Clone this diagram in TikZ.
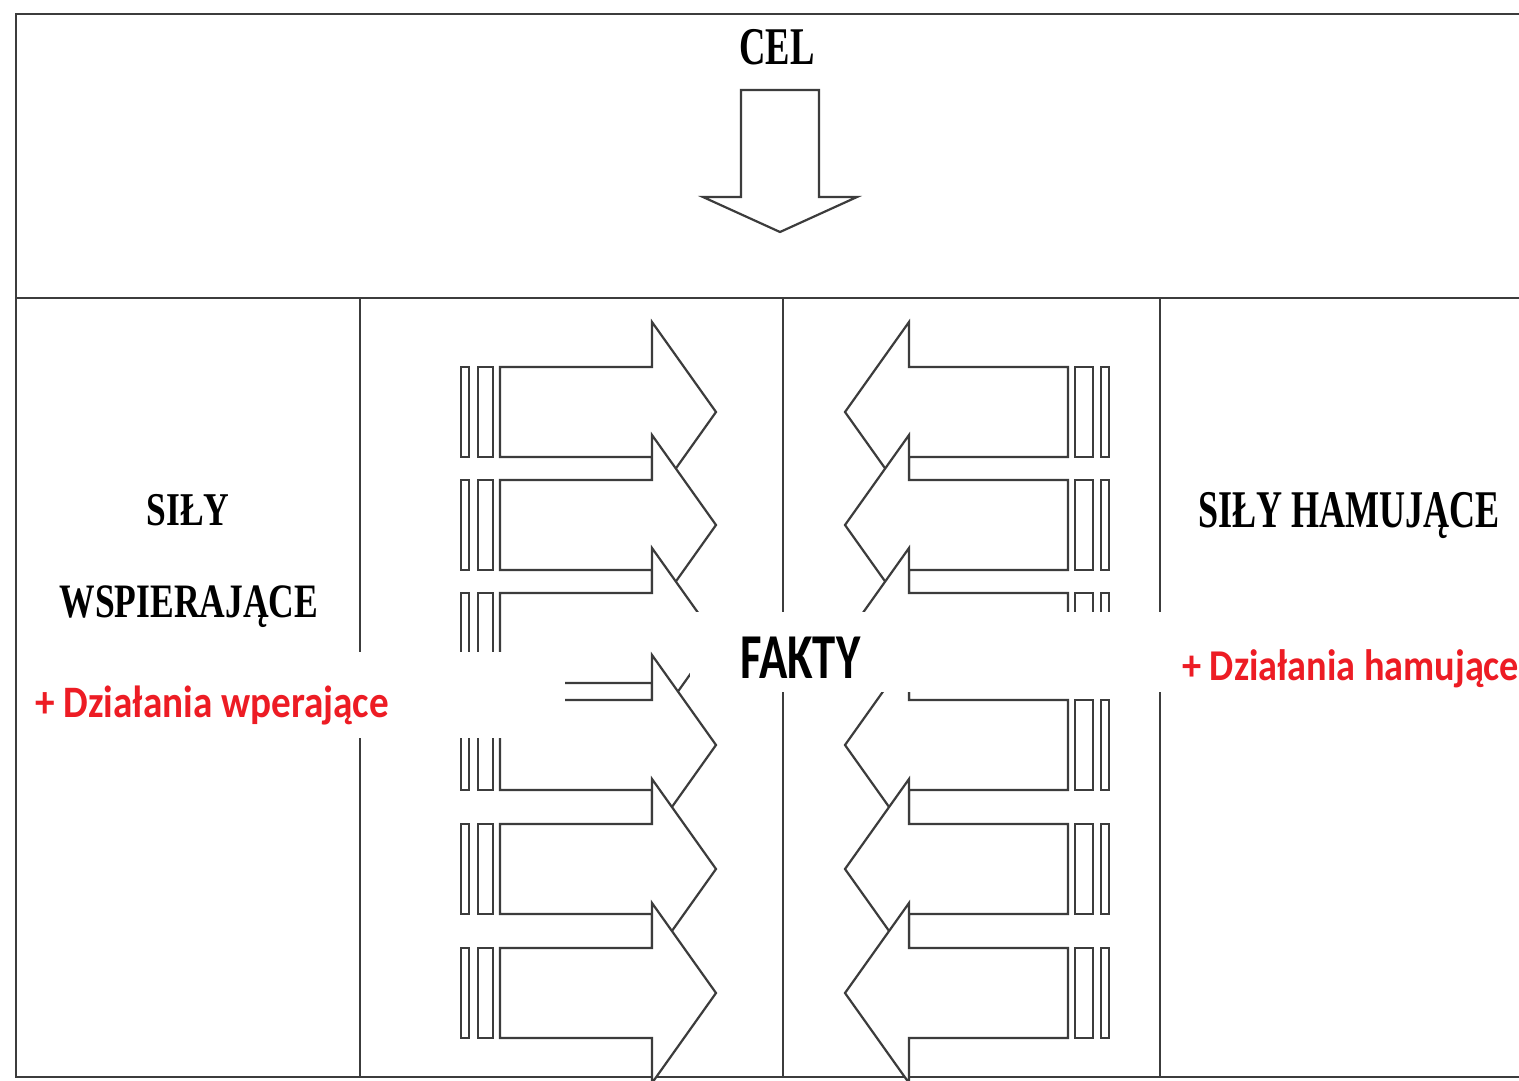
\documentclass[tikz,border=0pt]{standalone}
\usepackage{fontspec}
\setmainfont{Liberation Serif}
\newfontfamily\calib{Carlito}
\definecolor{redlab}{RGB}{237,28,36}
\definecolor{linegray}{RGB}{60,60,60}
\begin{document}
\begin{tikzpicture}[x=1pt,y=-1pt,
  frameline/.style={draw=linegray, line width=2.8pt},
  colline/.style={draw=linegray, line width=2.2pt},
  arr/.style={draw=linegray, fill=white, line width=2.2pt, line join=miter},
  barbox/.style={draw=linegray, fill=white, line width=2pt},
  mask/.style={fill=white, draw=none},
  serifb/.style={inner sep=0pt, font=\bfseries},
  calb/.style={inner sep=0pt, font=\calib\bfseries},
  redb/.style={inner sep=0pt, font=\calib\bfseries, text=redlab}
]
\useasboundingbox (0,0) rectangle (1519,1080);
\fill[white] (0,0) rectangle (1519,1080);

% frame
\draw[frameline] (16,14) -- (1519,14);
\draw[frameline] (16,298) -- (1519,298);
\draw[frameline] (16,1077) -- (1519,1077);
\draw[frameline] (16,13) -- (16,1078);
\draw[colline] (360,298) -- (360,1077);
\draw[colline] (783,298) -- (783,1077);
\draw[colline] (1160,298) -- (1160,1077);

% CEL arrow
\draw[arr] (741,90) -- (819,90) -- (819,197) -- (857,197) -- (780,232) -- (703,197) -- (741,197) -- cycle;

% left (supporting) arrows
\foreach \c in {412,525,638,745,869,993} {
  \draw[arr] (500,{\c-45}) -- (652,{\c-45}) -- (652,{\c-90}) -- (716,\c) -- (652,{\c+90}) -- (652,{\c+45}) -- (500,{\c+45}) -- cycle;
  \draw[barbox] (478,{\c-45}) rectangle (493,{\c+45});
  \draw[barbox] (461,{\c-45}) rectangle (469,{\c+45});
}
% right (restraining) arrows
\foreach \c in {412,525,638,745,869,993} {
  \draw[arr] (1068,{\c-45}) -- (909,{\c-45}) -- (909,{\c-90}) -- (845,\c) -- (909,{\c+90}) -- (909,{\c+45}) -- (1068,{\c+45}) -- cycle;
  \draw[barbox] (1075,{\c-45}) rectangle (1093,{\c+45});
  \draw[barbox] (1101,{\c-45}) rectangle (1109,{\c+45});
}

% white masks behind labels
\path[mask] (20,652) rectangle (565,738);
\path[mask] (690,612) rectangle (1519,692);

% texts
\node[serifb, anchor=base, font=\bfseries\fontsize{53}{53}\selectfont] (cel) at (777,64) {\scalebox{0.69}[1]{CEL}};
\node[serifb, anchor=base, font=\bfseries\fontsize{47}{47}\selectfont] (sily) at (188,525) {\scalebox{0.755}[1]{SIŁY}};
\node[serifb, anchor=base, font=\bfseries\fontsize{48}{48}\selectfont] (wsp) at (189,617) {\scalebox{0.74}[1]{WSPIERAJĄCE}};
\node[serifb, anchor=base, font=\bfseries\fontsize{53}{53}\selectfont] (ham) at (1349,527) {\scalebox{0.68}[1]{SIŁY HAMUJĄCE}};
\node[calb, anchor=base west, font=\calib\bfseries\fontsize{64}{64}\selectfont] (fakty) at (740,678) {\scalebox{0.73}[1]{FAKTY}};
\node[redb, anchor=base west, font=\calib\bfseries\fontsize{45}{45}\selectfont] (dwsp) at (35,717) {\scalebox{0.87}[1]{+ Działania wperające}};
\node[redb, anchor=base west, font=\calib\bfseries\fontsize{44}{44}\selectfont] (dham) at (1182,680) {\scalebox{0.87}[1]{+ Działania hamujące}};
\end{tikzpicture}
\end{document}
